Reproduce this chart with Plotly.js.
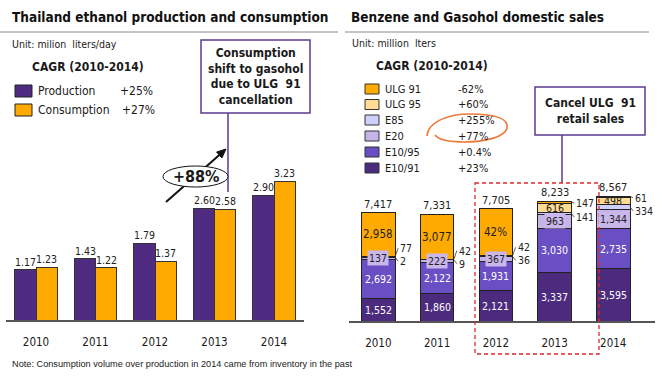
<!DOCTYPE html>
<html><head><meta charset="utf-8">
<script src="https://cdn.plot.ly/plotly-3.0.1.min.js"></script>
<style>html,body{margin:0;padding:0;background:#fff}#chart{width:668px;height:378px}</style>
</head><body><div id="chart"></div>
<script>
// ---------- data ----------
const years = ['2010','2011','2012','2013','2014'];
const production = [1.17, 1.43, 1.79, 2.60, 2.90];
const consumption = [1.23, 1.22, 1.37, 2.58, 3.23];
const leftLegend = ['Production', 'Consumption'];
const leftCagr = ['+25%', '+27%'];

const e1091 = [1552, 1860, 2121, 3337, 3595];
const e1095 = [2692, 2122, 1931, 3030, 2735];
const e20   = [137, 222, 367, 963, 1344];
const e85   = [2, 9, 36, 141, 334];
const ulg95 = [77, 42, 42, 616, 498];
const ulg91 = [2958, 3077, 3208, 147, 61];
const salesTotals = [7417, 7331, 7705, 8233, 8567];
const rightLegend = ['ULG 91', 'ULG 95', 'E85', 'E20', 'E10/95', 'E10/91'];
const rightCagr = ['-62%', '+60%', '+255%', '+77%', '+0.4%', '+23%'];

// ---------- helpers ----------
const W = 668, H = 378;
const px = x => x / W, py = y => 1 - y / H;
const F = 'DejaVu Sans Condensed, DejaVu Sans, sans-serif';
const FB = 'DejaVu Sans Condensed, DejaVu Sans, sans-serif';
const DARK = '#1a1a1a';
const col = {prod:'#4F2C82', cons:'#FFAA00'};
// bottom -> top stack order
const series = [e1091, e1095, e20, e85, ulg95, ulg91];
const sNames = ['E10/91','E10/95','E20','E85','ULG 95','ULG 91'];
const sCols = ['#4C2B7F','#6A4EC3','#C6B3E8','#CFCFFC','#FFDB93','#FFAA00'];
const legendCols = ['#FFAA00','#FFDB93','#CFCFFC','#C6B3E8','#6A4EC3','#4C2B7F'];

// geometry (pixels)
const L = {x0: 6.25, x1: 303.75, base: 320, top: 118, max: 4.7};
const R = {x0: 349, x1: 655, base: 321, top: 175.3, max: 10000};
const rPxPerUnit = (R.base - R.top) / R.max;

// ---------- traces ----------
const traces = [];
traces.push({type:'bar', x:years, y:production, xaxis:'x', yaxis:'y', width:0.355, offset:-0.355,
  marker:{color:col.prod, line:{color:'#333', width:1}}, hoverinfo:'skip', showlegend:false});
traces.push({type:'bar', x:years, y:consumption, xaxis:'x', yaxis:'y3', width:0.355, offset:0,
  marker:{color:col.cons, line:{color:'#333', width:1}}, hoverinfo:'skip', showlegend:false});
series.forEach((s, k) => traces.push({type:'bar', x:years, y:s, xaxis:'x2', yaxis:'y2', width:0.57,
  name:sNames[k], marker:{color:sCols[k], line:{color:'#222', width:1}}, hoverinfo:'skip', showlegend:false}));

// ---------- annotations ----------
const ann = [];
const txt = (x, y, text, o = {}) => ann.push(Object.assign({xref:'paper', yref:'paper', x:px(x), y:py(y), text,
  showarrow:false, xanchor:'left', yanchor:'middle', font:{family:F, size:11, color:DARK}}, o));

// left value labels
years.forEach((yr, i) => {
  ann.push({xref:'x', yref:'y', x:i, y:production[i], xshift:-10.5, yanchor:'bottom', text:production[i].toFixed(2),
    showarrow:false, font:{family:F, size:10.5, color:'#222'}});
  ann.push({xref:'x', yref:'y3', x:i, y:consumption[i], xshift:10.5, yanchor:'bottom', text:consumption[i].toFixed(2),
    showarrow:false, font:{family:F, size:10.5, color:'#222'}});
});

// right segment labels
years.forEach((yr, i) => {
  let cum = 0;
  const mids = [];
  series.forEach((s, k) => { mids.push(cum + s[i] / 2); cum += s[i]; });
  const outside = [];
  series.forEach((s, k) => {
    const v = s[i];
    const isOut = (k === 3) || ((k === 4 || k === 5) && v < 200);
    if (isOut) { outside.push(k); return; }
    let label = v.toLocaleString('en-US');
    if (k === 5 && i === 2) label = Math.round(v / salesTotals[i] * 100) + '%';
    const white = k <= 1;
    const a = {xref:'x2', yref:'y2', x:i, y:mids[k], text:label, showarrow:false,
      font:{family:F, size:k === 5 ? 11.5 : 10.5, color:white ? '#ffffff' : '#222'}};
    if (k === 2) { a.bgcolor = '#C9B6EA'; a.borderpad = 1; }
    ann.push(a);
  });
  // outside labels: lower (E85) and upper (the higher small segment)
  const lowerK = outside[0], upperK = outside[1];
  const midPx = k => R.base - mids[k] * rPxPerUnit;
  const lowerTxt = midPx(lowerK) + 4;
  const upperTxt = Math.min(midPx(upperK) + 1, lowerTxt - 13);
  [[lowerK, lowerTxt], [upperK, upperTxt]].forEach(([k, tp]) => {
    ann.push({xref:'x2', yref:'y2', x:i + 0.285, y:mids[k], text:series[k][i].toLocaleString('en-US'),
      showarrow:true, arrowhead:0, arrowwidth:0.8, arrowcolor:'#333', standoff:0, startstandoff:0,
      ax:3, ay:tp - midPx(k), xanchor:'left', yanchor:'middle',
      font:{family:F, size:10.5, color:'#222'}});
  });
  // totals
  ann.push({xref:'x2', yref:'y2', x:i, y:cum, yanchor:'bottom', text:salesTotals[i].toLocaleString('en-US'),
    showarrow:false, font:{family:F, size:11, color:'#222'}});
});

// left texts
txt(10, 17, '<b>Thailand ethanol production and consumption</b>', {font:{family:FB, size:13.5, color:'#111'}});
txt(10, 44, 'Unit: milion  liters/day', {font:{family:F, size:10.5, color:DARK}});
txt(30, 67, '<b>CAGR (2010-2014)</b>', {font:{family:FB, size:12, color:DARK}});
txt(36, 91, leftLegend[0], {font:{family:F, size:12, color:DARK}});
txt(118, 91, leftCagr[0], {font:{family:F, size:12, color:DARK}});
txt(36, 110, leftLegend[1], {font:{family:F, size:12, color:DARK}});
txt(120, 110, leftCagr[1], {font:{family:F, size:12, color:DARK}});
txt(255.5, 76.5, '<b>Consumption<br>shift to gasohol<br>due to ULG  91<br>cancellation</b>',
  {xanchor:'center', font:{family:FB, size:12, color:DARK}});
txt(196, 176.5, '<b>+88%</b>', {xanchor:'center', font:{family:FB, size:16, color:DARK}});
txt(10, 364, 'Note: Consumption volume over production in 2014 came from inventory in the past',
  {font:{family:'Liberation Sans Narrow, Liberation Sans, sans-serif', size:9.2, color:DARK}});

// right texts
txt(349, 17, '<b>Benzene and Gasohol domestic sales</b>', {font:{family:FB, size:13.5, color:'#111'}});
txt(350, 43, 'Unit: million  lters', {font:{family:F, size:10.5, color:DARK}});
txt(374, 66, '<b>CAGR (2010-2014)</b>', {font:{family:FB, size:12, color:DARK}});
const rowY = [89, 104.5, 120, 136, 152, 168];
rightLegend.forEach((n, j) => {
  txt(383, rowY[j], n, {font:{family:F, size:11, color:DARK}});
  txt(456, rowY[j], rightCagr[j], {font:{family:F, size:11, color:DARK}});
});
txt(590, 111, '<b>Cancel ULG  91<br>retail sales</b>', {xanchor:'center', font:{family:FB, size:12, color:DARK}});

// ---------- shapes ----------
const shapes = [];
const line = (x0, y0, x1, y1, c, w, dash) => shapes.push({type:'line', xref:'paper', yref:'paper',
  x0:px(x0), y0:py(y0), x1:px(x1), y1:py(y1), line:{color:c, width:w, dash:dash || 'solid'}});
const rect = (x0, y0, x1, y1, o) => shapes.push(Object.assign({type:'rect', xref:'paper', yref:'paper',
  x0:px(x0), y0:py(y0), x1:px(x1), y1:py(y1)}, o));
const path = pts => 'M' + pts.map(p => px(p[0]) + ',' + py(p[1])).join(' L') + ' Z';

line(0, 32, 338, 32, '#8a8a8a', 1);
line(345, 32, 649, 32, '#8a8a8a', 1);
// left legend swatches
rect(15, 85, 32, 97, {fillcolor:col.prod, line:{color:'#222', width:1}});
rect(15, 104, 32, 116, {fillcolor:col.cons, line:{color:'#222', width:1}});
// right legend swatches
rowY.forEach((y, j) => rect(365, y - 5, 379, y + 5, {fillcolor:legendCols[j], line:{color:'#333', width:1}}));
// left callout
rect(201, 40, 310, 113, {fillcolor:'rgba(0,0,0,0)', line:{color:'#5B3A8E', width:1.5}});
line(228, 113, 228, 192, '#5B3A8E', 1.5);
// arrow + ellipse
line(166, 202, 221, 153.5, '#111', 2);
shapes.push({type:'path', xref:'paper', yref:'paper', path:path([[226,149],[221.9,158],[216.6,152]]),
  fillcolor:'#111', line:{color:'#111', width:1}});
shapes.push({type:'circle', xref:'paper', yref:'paper', x0:px(163), x1:px(228), y0:py(187), y1:py(166),
  fillcolor:'#ffffff', line:{color:'#111', width:1}});
// right callout
rect(535, 87, 645, 135, {fillcolor:'rgba(0,0,0,0)', line:{color:'#5B3A8E', width:1.5}});
line(562, 135, 562, 183, '#5B3A8E', 1.5);
rect(475, 183, 599, 354, {fillcolor:'rgba(0,0,0,0)', line:{color:'#E02828', width:1.3, dash:'4px,3px'}});
// orange hand-drawn ring
const P = (x, y) => px(x) + ',' + py(y);
shapes.push({type:'path', xref:'paper', yref:'paper',
  path:'M' + P(427,136) + ' C' + P(428,121) + ' ' + P(450,114) + ' ' + P(470,114) +
       ' C' + P(496,114) + ' ' + P(509,119) + ' ' + P(507,128) +
       ' C' + P(505,137) + ' ' + P(485,142) + ' ' + P(464,142) +
       ' C' + P(450,142) + ' ' + P(439,140) + ' ' + P(435,135),
  line:{color:'#EE7A3A', width:1.6}});

// ---------- layout ----------
const xCommon = {type:'category', showline:true, linecolor:'#555', linewidth:1.5, ticks:'', showgrid:false,
  zeroline:false, tickfont:{family:F, size:11.5, color:DARK}, ticklabelstandoff:11, fixedrange:true};
const layout = {
  width:W, height:H, autosize:false, margin:{l:0, r:0, t:0, b:0},
  paper_bgcolor:'#ffffff', plot_bgcolor:'rgba(0,0,0,0)', barmode:'stack', showlegend:false,
  xaxis: Object.assign({}, xCommon, {domain:[px(L.x0), px(L.x1)], anchor:'y'}),
  yaxis: {domain:[py(L.base), py(L.top)], range:[0, L.max], visible:false, fixedrange:true},
  yaxis3: {overlaying:'y', range:[0, L.max], visible:false, fixedrange:true},
  xaxis2: Object.assign({}, xCommon, {domain:[px(R.x0), px(R.x1)], anchor:'y2'}),
  yaxis2: {domain:[py(R.base), py(R.top)], range:[0, R.max], visible:false, fixedrange:true},
  annotations: ann, shapes: shapes
};
Plotly.newPlot('chart', traces, layout, {displayModeBar:false, staticPlot:true});
</script></body></html>
